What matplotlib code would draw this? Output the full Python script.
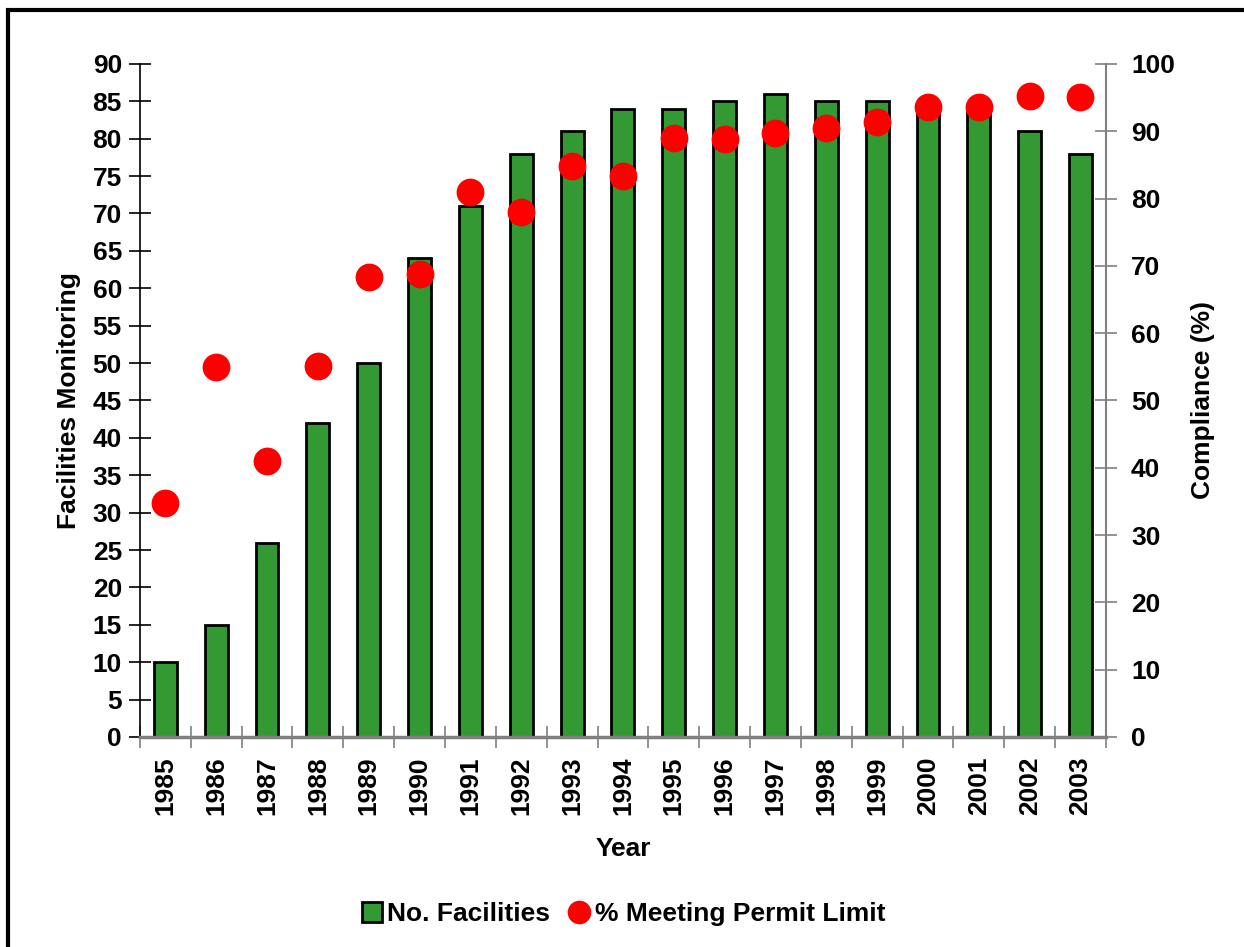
import numpy as np
import matplotlib.pyplot as plt
from matplotlib.lines import Line2D
from matplotlib.patches import Rectangle

plt.rcParams['font.family'] = ['Liberation Sans', 'DejaVu Sans']
plt.rcParams['font.weight'] = 'bold'

years = [str(y) for y in range(1985, 2004)]
facilities = [10, 15, 26, 42, 50, 64, 71, 78, 81, 84, 84, 85, 86, 85, 85, 84, 84, 81, 78]
compliance = [34.8, 55.0, 41.0, 55.1, 68.3, 68.8, 81.0, 78.0, 84.8, 83.4,
              89.0, 88.9, 89.7, 90.5, 91.4, 93.6, 93.6, 95.3, 95.1]

bar_color = '#339933'
dot_color = '#ff0000'
grey = '#808080'
fs = 19

fig = plt.figure(figsize=(12.44, 9.47), dpi=100)
ax = fig.add_axes([0.1125, 0.2218, 0.7765, 0.7107])
ax2 = ax.twinx()

x = np.arange(len(years))
ax.bar(x, facilities, width=0.45, color=bar_color, edgecolor='black', linewidth=2, zorder=2)
ax2.scatter(x, compliance, s=400, color=dot_color, zorder=3, linewidths=0)

ax.set_xlim(-0.5, len(years) - 0.5)
ax.set_ylim(0, 90)
ax2.set_ylim(0, 100)
ax.set_yticks(np.arange(0, 91, 5))
ax2.set_yticks(np.arange(0, 101, 10))

ax.set_xticks(x)
ax.set_xticklabels(years, rotation=90, fontsize=fs, fontweight='bold')
ax.set_xticks(np.arange(-0.5, len(years)), minor=True)
ax.tick_params(axis='x', which='major', length=0, pad=14)
ax.tick_params(axis='x', which='minor', length=16, direction='inout', color=grey, width=1.2)
ax.tick_params(axis='y', length=16, direction='inout', labelsize=fs, pad=5, width=1.2)
ax2.tick_params(axis='y', length=16, direction='inout', labelsize=fs, pad=10, color=grey, width=1.2)
for lab in ax.get_yticklabels() + ax2.get_yticklabels():
    lab.set_fontweight('bold')

for a in (ax, ax2):
    for side in ('top', 'left', 'right', 'bottom'):
        a.spines[side].set_visible(False)
ax.spines['left'].set_visible(True)
ax.spines['left'].set_linewidth(1.2)
ax.spines['bottom'].set_visible(True)
ax.spines['bottom'].set_color(grey)
ax.spines['bottom'].set_linewidth(2.5)
ax2.spines['right'].set_visible(True)
ax2.spines['right'].set_color(grey)
ax2.spines['right'].set_linewidth(1.5)

ax.set_ylabel('Facilities Monitoring', fontsize=fs, fontweight='bold', labelpad=8)
ax2.set_ylabel('Compliance (%)', fontsize=fs, fontweight='bold', labelpad=12)
ax.set_xlabel('Year', fontsize=fs, fontweight='bold', labelpad=16)

handles = [
    Line2D([], [], marker='s', linestyle='none', markersize=15, markerfacecolor=bar_color,
           markeredgecolor='black', markeredgewidth=2, label='No. Facilities'),
    Line2D([], [], marker='o', linestyle='none', markersize=17, markerfacecolor=dot_color,
           markeredgewidth=0, label='% Meeting Permit Limit'),
]
fig.legend(handles=handles, loc='center', bbox_to_anchor=(0.5, 0.035), ncol=2, frameon=False,
           handletextpad=0.1, columnspacing=0.6, handlelength=1.0,
           prop={'weight': 'bold', 'size': fs})

# outer border (only the top and left edges fall inside the image)
fig.patches.append(Rectangle((8 / 1244, -0.05), 1.1, 1 - 10 / 947 + 0.05, transform=fig.transFigure,
                             fill=False, edgecolor='black', linewidth=3))

fig.savefig('out.png', dpi=100)
